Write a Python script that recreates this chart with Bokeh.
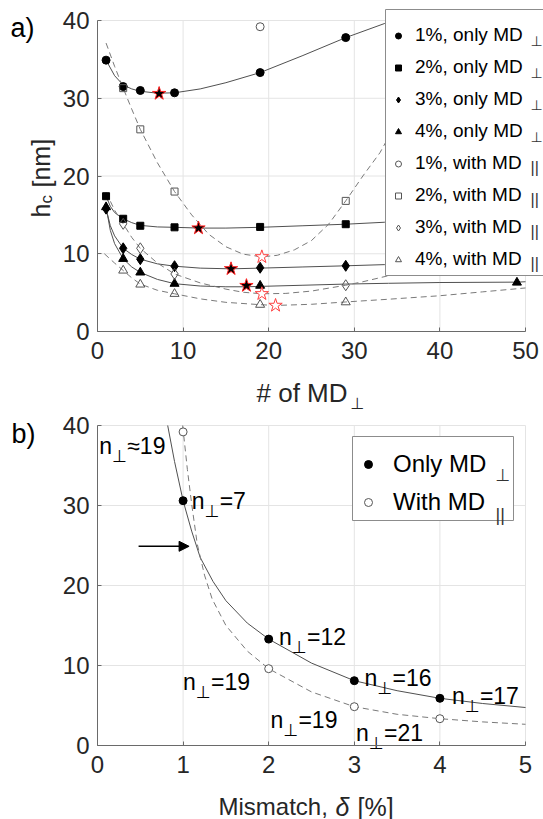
from bokeh.plotting import figure
from bokeh.models import (Range1d, FixedTicker, Legend, LegendItem, Label, LinearAxis,
                          Arrow, NormalHead, ColumnDataSource, BoxAnnotation)
from bokeh.layouts import column
from bokeh.core.properties import value
from bokeh.embed import file_html
from bokeh.resources import INLINE

FONT = "Liberation Sans"
SYM = "DejaVu Sans"

# ---------------- panel a data ----------------
xticks_a = [0, 10, 20, 30, 40, 50]
yticks_a = [0, 10, 20, 30, 40]

n_only_123 = [1, 3, 5, 9, 19, 29]
hc_only_1 = [34.9, 31.5, 31.0, 30.7, 33.3, 37.8]
hc_only_2 = [17.4, 14.5, 13.6, 13.4, 13.45, 13.8]
hc_only_3 = [15.8, 10.7, 9.3, 8.4, 8.2, 8.45]
n_only_4 = [1, 3, 5, 9, 19, 49]
hc_only_4 = [16.0, 9.35, 7.6, 6.15, 5.9, 6.3]

n_with_1 = [19]
hc_with_1 = [39.2]
n_with_23 = [3, 5, 9, 29]
hc_with_2 = [31.3, 26.0, 18.0, 16.8]
hc_with_3 = [13.85, 10.7, 7.4, 5.95]
n_with_4 = [3, 5, 9, 19, 29]
hc_with_4 = [7.85, 6.05, 4.85, 3.45, 3.77]

opt_only_n = [7.2, 11.8, 15.6, 17.4]
opt_only_hc = [30.6, 13.3, 8.06, 5.9]
opt_with_n = [19.2, 19.2, 20.8]
opt_with_hc = [9.6, 4.85, 3.35]

# fitted curves
fit1o_n = [1, 2, 3, 4, 5, 7, 9, 12, 15, 19, 24, 29, 33.5, 34.5]
fit1o_h = [34.9, 32.9, 31.7, 31.2, 30.9, 30.65, 30.7, 31.2, 32.0, 33.3, 35.5, 37.8, 39.6, 40.0]
fit2o_n = [1, 1.5, 2, 3, 4, 5, 7, 9, 12, 15, 19, 24, 29, 33.5, 40, 50]
fit2o_h = [17.4, 16.1, 15.3, 14.5, 14.0, 13.65, 13.45, 13.4, 13.3, 13.3, 13.4, 13.6, 13.8, 14.05, 14.3, 14.7]
fit3o_n = [1, 1.5, 2, 3, 4, 5, 7, 9, 12, 15.6, 19, 24, 29, 33.5, 40, 50]
fit3o_h = [15.8, 13.6, 12.3, 10.7, 9.9, 9.3, 8.7, 8.4, 8.15, 8.06, 8.15, 8.3, 8.45, 8.6, 8.8, 9.1]
fit4o_n = [1, 1.5, 2, 3, 4, 5, 7, 9, 12, 15, 17.4, 19, 24, 29, 34, 40, 49, 50]
fit4o_h = [16.0, 13.0, 11.3, 9.35, 8.3, 7.6, 6.7, 6.15, 5.85, 5.75, 5.75, 5.8, 5.95, 6.1, 6.2, 6.3, 6.35, 6.4]

fit2w_n = [1, 2, 3, 4, 5, 7, 9, 11, 13, 15, 17, 19.2, 21, 23, 25, 27, 29, 31, 33, 35, 37, 39]
fit2w_h = [37.1, 34.1, 31.3, 28.6, 26.0, 21.7, 18.0, 15.0, 12.5, 10.9, 9.95, 9.6, 9.8, 10.5, 11.7, 13.8, 16.8, 20.0, 23.0, 27.0, 31.5, 36.5]
fit3w_n = [1, 2, 3, 4, 5, 7, 9, 12, 15, 17, 19.2, 22, 25, 29, 31, 33.7, 36, 40]
fit3w_h = [17.9, 15.6, 13.85, 12.1, 10.7, 8.8, 7.4, 6.25, 5.45, 5.05, 4.85, 4.9, 5.2, 5.95, 6.4, 7.1, 7.9, 9.5]
fit4w_n = [0.8, 2, 3, 4, 5, 7, 9, 12, 15, 19, 20.8, 25, 29, 34, 40, 45, 50]
fit4w_h = [10.0, 8.8, 7.85, 6.9, 6.1, 5.3, 4.85, 4.2, 3.75, 3.45, 3.35, 3.5, 3.8, 4.15, 4.6, 5.1, 5.6]

legend_a_labels = ["1%, only MD", "2%, only MD", "3%, only MD", "4%, only MD",
                   "1%, with MD", "2%, with MD", "3%, with MD", "4%, with MD"]
legend_a_subs = ["\u22a5", "\u22a5", "\u22a5", "\u22a5", "||", "||", "||", "||"]

# ---------------- panel b data ----------------
xticks_b = [0, 1, 2, 3, 4, 5]
yticks_b = [0, 10, 20, 30, 40]
mismatch = [1, 2, 3, 4]
hc_opt_only = [30.6, 13.3, 8.1, 5.9]
hc_opt_with = [39.2, 9.6, 4.85, 3.35]

fitb_only_x = [0.82, 0.9, 1.0, 1.1, 1.2, 1.35, 1.5, 1.75, 2.0, 2.5, 3.0, 3.5, 4.0, 4.5, 5.0]
fitb_only_y = [40.0, 35.5, 30.6, 26.8, 23.5, 20.5, 18.1, 15.3, 13.3, 10.3, 8.1, 6.85, 5.9, 5.25, 4.75]
fitb_with_x = [0.995, 1.05, 1.1, 1.165, 1.25, 1.34, 1.5, 1.75, 2.0, 2.5, 3.0, 3.5, 4.0, 4.5, 5.0]
fitb_with_y = [40.0, 34.5, 30.2, 25.2, 21.3, 18.3, 15.0, 11.8, 9.6, 6.7, 4.85, 3.9, 3.35, 2.95, 2.65]

anno_x = [0.02, 1.1, 2.12, 3.12, 4.14, 1.0, 2.02, 3.02]
anno_y = [37.4, 30.6, 13.6, 8.5, 6.2, 7.95, 3.25, 1.6]
anno_txt = ["\u224819", "=7", "=12", "=16", "=17", "=19", "=19", "=21"]

arrow_x = [0.48, 1.07]
arrow_y = [24.9, 24.9]

legend_b_labels = ["Only MD", "With MD"]
legend_b_subs = ["\u22a5", "||"]

SOLID = "#505050"
DASH = "#7a7a7a"
OPEN = "#555555"
GRID = "#e4e4e4"
AXC = "#6a6a6a"
LEGC = "#8c8c8c"

# pixel layout of the two axes boxes (canvas pixels)
W = 543
HA, HB = 413, 406
FL, FR = 97, 525          # left / right of both boxes
A_TOP, A_BOT = 20, 331    # panel a box, within its canvas
B_TOP, B_BOT = 12, 332    # panel b box, within its canvas


def make_fig(h, xr, yr, top, bot):
    x0, x1 = xr
    y0, y1 = yr
    sx = (x1 - x0) / (FR - FL)
    sy = (y1 - y0) / (bot - top)
    p = figure(width=W, height=h, output_backend="svg", toolbar_location=None,
               x_axis_type=None, y_axis_type=None,
               x_range=Range1d(x0 - FL * sx, x1 + (W - FR) * sx),
               y_range=Range1d(y0 - (h - bot) * sy, y1 + top * sy),
               min_border=0, min_border_left=0, min_border_right=0,
               min_border_top=0, min_border_bottom=0,
               background_fill_color="white", border_fill_color="white")
    p.outline_line_color = None
    return p


def add_axes(p, xt, yt):
    p.segment(x0=xt, y0=[yt[0]] * len(xt), x1=xt, y1=[yt[-1]] * len(xt),
              line_color=GRID, line_width=1)
    p.segment(x0=[xt[0]] * len(yt), y0=yt, x1=[xt[-1]] * len(yt), y1=yt,
              line_color=GRID, line_width=1)
    ax = LinearAxis(fixed_location=yt[0], bounds=(xt[0], xt[-1]), ticker=FixedTicker(ticks=xt))
    ay = LinearAxis(fixed_location=xt[0], bounds=(yt[0], yt[-1]), ticker=FixedTicker(ticks=yt))
    for a in (ax, ay):
        a.axis_line_color = AXC
        a.axis_line_width = 1
        a.major_tick_line_color = AXC
        a.major_tick_in = 4
        a.major_tick_out = 0
        a.minor_tick_line_color = None
        a.major_label_text_font = FONT
        a.major_label_text_font_size = "24px"
        a.major_label_text_color = "#262626"
    ax.major_label_standoff = 10
    ay.major_label_standoff = 8
    p.add_layout(ax, "below")
    p.add_layout(ay, "left")


def lab(p, h, X, Y, text, size, font=FONT, angle=0.0, color="black", style="normal"):
    p.add_layout(Label(x=X, y=h - Y, x_units="screen", y_units="screen", text=text,
                       text_font=font, text_font_size=size, angle=angle,
                       text_color=color, text_align="left", level="overlay",
                       text_baseline="alphabetic", text_font_style=style))


def box(p, h, left, right, top, bottom):
    p.add_layout(BoxAnnotation(left=left, right=right, top=h - top, bottom=h - bottom,
                               left_units="screen", right_units="screen",
                               top_units="screen", bottom_units="screen",
                               fill_color="white", fill_alpha=1.0,
                               line_color=LEGC, line_width=1, line_alpha=1.0))


# ================= panel a =================
pa = make_fig(HA, (xticks_a[0], xticks_a[-1]), (yticks_a[0], yticks_a[-1]), A_TOP, A_BOT)
add_axes(pa, xticks_a, yticks_a)

for xs, ys in [(fit1o_n, fit1o_h), (fit2o_n, fit2o_h), (fit3o_n, fit3o_h), (fit4o_n, fit4o_h)]:
    pa.line(xs, ys, line_color=SOLID, line_width=1)
for xs, ys in [(fit2w_n, fit2w_h), (fit3w_n, fit3w_h), (fit4w_n, fit4w_h)]:
    pa.line(xs, ys, line_color=DASH, line_width=1, line_dash="6 4")

r_o1 = pa.scatter(n_only_123, hc_only_1, marker="circle", size=8, fill_color="black", line_color="black")
r_o2 = pa.scatter(n_only_123, hc_only_2, marker="square", size=7, fill_color="black", line_color="black")
r_o3 = pa.scatter(n_only_123, hc_only_3, marker="diamond", size=11, fill_color="black", line_color="black")
r_o4 = pa.scatter(n_only_4, hc_only_4, marker="triangle", size=9, fill_color="black", line_color="black")
r_w1 = pa.scatter(n_with_1, hc_with_1, marker="circle", size=8, fill_color=None, line_color=OPEN)
r_w2 = pa.scatter(n_with_23, hc_with_2, marker="square", size=7, fill_color=None, line_color=OPEN)
r_w3 = pa.scatter(n_with_23, hc_with_3, marker="diamond", size=11, fill_color=None, line_color=OPEN)
r_w4 = pa.scatter(n_with_4, hc_with_4, marker="triangle", size=9, fill_color=None, line_color=OPEN)

pa.scatter(opt_only_n, opt_only_hc, marker="star", size=14, fill_color="black", line_color="#ff2020", line_width=1)
pa.scatter(opt_with_n, opt_with_hc, marker="star", size=14, fill_color="white", line_color="#ff4040", line_width=1)

# legend a: own box, transparent Bokeh legend on top, subscripts as labels
box(pa, HA, 385, 640, 9, 275)
rend_a = [r_o1, r_o2, r_o3, r_o4, r_w1, r_w2, r_w3, r_w4]
leg_a = Legend(items=[LegendItem(label=l, renderers=[r]) for l, r in zip(legend_a_labels, rend_a)],
               location=(385, HA - 272), orientation="vertical", padding=6, spacing=6,
               label_height=26, glyph_height=15, glyph_width=26, label_standoff=4,
               label_width=150, label_text_font=FONT, label_text_font_size="19px",
               label_text_color="black", border_line_color=None,
               background_fill_alpha=0.0, margin=0)
pa.add_layout(leg_a)
for i, s in enumerate(legend_a_subs):
    c = 25 + 32 * i
    if s == "||":
        lab(pa, HA, 530, c + 14, s, "16px", color="#333333")
    else:
        lab(pa, HA, 530, c + 15, s, "14px", font=SYM, color="#333333")

lab(pa, HA, 40, 217, "h", "25px", angle=1.5708, color="#262626")
lab(pa, HA, 46, 203, "c", "17px", angle=1.5708, color="#262626")
lab(pa, HA, 41, 187, "[nm]", "25px", angle=1.5708, color="#262626")
lab(pa, HA, 256, 392, "# of MD", "26px", color="#262626")
lab(pa, HA, 350, 403, "\u22a5", "16px", font=SYM, color="#262626")
lab(pa, HA, 10, 27, "a)", "27px")

# ================= panel b =================
pb = make_fig(HB, (xticks_b[0], xticks_b[-1]), (yticks_b[0], yticks_b[-1]), B_TOP, B_BOT)
add_axes(pb, xticks_b, yticks_b)

pb.line(fitb_only_x, fitb_only_y, line_color=SOLID, line_width=1)
pb.line(fitb_with_x, fitb_with_y, line_color=DASH, line_width=1, line_dash="6 4")
rb1 = pb.scatter(mismatch, hc_opt_only, marker="circle", size=8, fill_color="black", line_color="black")
rb2 = pb.scatter(mismatch, hc_opt_with, marker="circle", size=8, fill_color="white", line_color=OPEN)

src_anno = ColumnDataSource(dict(x=anno_x, y=anno_y, t=anno_txt))
common = dict(text_align="left", text_baseline="alphabetic", text_color="black")
pb.text(x="x", y="y", text=value("n"), source=src_anno, text_font=value(FONT),
        text_font_size=value("23px"), **common)
pb.text(x="x", y="y", text=value("\u22a5"), source=src_anno, text_font=value(SYM),
        text_font_size=value("17px"), x_offset=13, y_offset=10, **common)
pb.text(x="x", y="y", text="t", source=src_anno, text_font=value(FONT),
        text_font_size=value("23px"), x_offset=28, **common)

pb.add_layout(Arrow(end=NormalHead(size=10, fill_color="black", line_color="black"),
                    x_start=arrow_x[0], y_start=arrow_y[0], x_end=arrow_x[1], y_end=arrow_y[1],
                    line_color="black", line_width=1.5))

YB = HA  # panel b canvas starts at this absolute y
box(pb, HB, 352, 513, 436 - YB, 520 - YB)
leg_b = Legend(items=[LegendItem(label=legend_b_labels[0], renderers=[rb1]),
                      LegendItem(label=legend_b_labels[1], renderers=[rb2])],
               location=(352, HB - (517 - YB)), orientation="vertical", padding=8, spacing=8,
               label_height=30, glyph_height=20, glyph_width=32, label_standoff=9,
               label_width=104, label_text_font=FONT, label_text_font_size="24px",
               label_text_color="black", border_line_color=None,
               background_fill_alpha=0.0, margin=0)
pb.add_layout(leg_b)
lab(pb, HB, 495, 474 - YB, legend_b_subs[0], "17px", font=SYM, color="#333333")
lab(pb, HB, 495, 514 - YB, legend_b_subs[1], "18px", color="#333333")
lab(pb, HB, 11, 433 - YB, "b)", "27px")
lab(pb, HB, 218, 806 - YB, "Mismatch,", "24px", color="#262626")
lab(pb, HB, 335, 806 - YB, "\u03b4", "25px", color="#262626", style="italic")
lab(pb, HB, 357, 806 - YB, "[%]", "25px", color="#262626")

layout = column(pa, pb, spacing=0)
open("out.html", "w").write(file_html(layout, INLINE))
